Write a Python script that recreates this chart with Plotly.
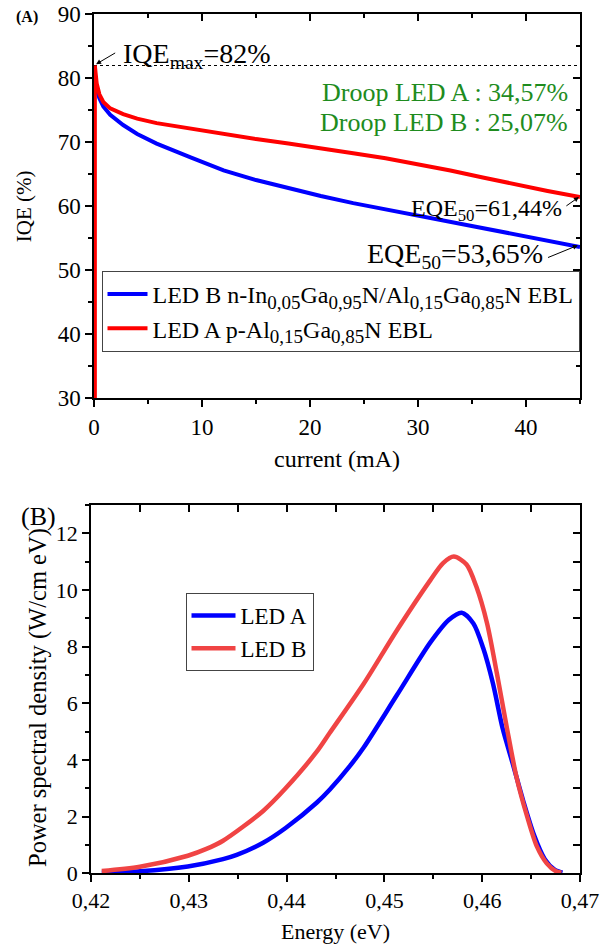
import plotly.graph_objects as go

# ---------------- Panel A data (IQE vs current) ----------------
current_a = [0.08, 0.08, 0.15, 0.25, 0.5, 0.86, 1.5, 2.7, 4, 5.8, 9, 12, 15, 18, 21,
             24, 27, 30, 33, 36, 39, 42, 45]
iqe_led_a = [30, 82, 80.8, 79.2, 77.5, 76.3, 75.3, 74.4, 73.7, 73.0, 72.1, 71.3, 70.5, 69.8, 69.1,
             68.3, 67.5, 66.6, 65.6, 64.5, 63.4, 62.4, 61.44]

current_b = [0.1, 0.25, 0.5, 0.86, 1.5, 2.7, 4, 5.8, 9, 12, 15, 18, 21, 24, 27, 30,
             33, 36, 39, 42, 45]
iqe_led_b = [80, 78.2, 76.9, 75.6, 74.3, 72.7, 71.3, 69.8, 67.6, 65.6, 64.1, 62.8, 61.6, 60.5,
             59.5, 58.5, 57.5, 56.5, 55.5, 54.55, 53.65]

iqe_max = 82
iqe_max_x = [0, 45]

# ---------------- Panel B data (power spectral density) ----------------
energy_led_a = [0.4211, 0.4250, 0.4299, 0.4335, 0.4349, 0.4376, 0.4399, 0.4431, 0.4444, 0.4465,
                0.4479, 0.4513, 0.4547, 0.4566, 0.4579, 0.4591, 0.4601, 0.4611, 0.4621, 0.4631,
                0.4642, 0.4653, 0.4664, 0.4674, 0.4682]
psd_led_a = [0.02, 0.07, 0.24, 0.50, 0.65, 1.08, 1.60, 2.50, 2.95, 3.80,
             4.45, 6.30, 8.15, 8.95, 9.20, 8.82, 7.95, 6.70, 5.10, 3.90,
             2.55, 1.35, 0.50, 0.13, 0.02]

energy_led_b = [0.4211, 0.4250, 0.4299, 0.4318, 0.4335, 0.4376, 0.4399, 0.4431, 0.4444, 0.4479,
                0.4513, 0.4547, 0.4560, 0.4571, 0.4584, 0.4594, 0.4605, 0.4615, 0.4625, 0.4635,
                0.4646, 0.4656, 0.4666, 0.4675, 0.4681]
psd_led_b = [0.08, 0.23, 0.62, 0.86, 1.15, 2.20, 3.00, 4.30, 4.95, 6.70,
             8.59, 10.35, 10.95, 11.18, 10.90, 10.12, 8.82, 7.06, 5.18, 3.41,
             2.00, 0.94, 0.35, 0.08, 0.02]

FONT = "Liberation Serif"
W, H = 611, 947

SUB = "<sub><span style='font-size:19px'>{}</span></sub>"
name_b = ("LED B n-In" + SUB.format("0,05") + "Ga" + SUB.format("0,95") + "N/Al"
          + SUB.format("0,15") + "Ga" + SUB.format("0,85") + "N EBL")
name_a = "LED A p-Al" + SUB.format("0,15") + "Ga" + SUB.format("0,85") + "N EBL"

fig = go.Figure()

# Panel A traces
fig.add_trace(go.Scatter(x=iqe_max_x, y=[iqe_max, iqe_max], mode="lines",
                         line=dict(color="black", width=1, dash="dot"),
                         showlegend=False, hoverinfo="skip", xaxis="x", yaxis="y"))
fig.add_trace(go.Scatter(x=current_b, y=iqe_led_b, mode="lines",
                         line=dict(color="#0000ff", width=4), name=name_b,
                         legend="legend", xaxis="x", yaxis="y"))
fig.add_trace(go.Scatter(x=current_a, y=iqe_led_a, mode="lines",
                         line=dict(color="#ff0000", width=4), name=name_a,
                         legend="legend", xaxis="x", yaxis="y"))
# invisible helper so the mirrored (top/right) axes of panel A are drawn
fig.add_trace(go.Scatter(x=iqe_max_x, y=[iqe_max, iqe_max], mode="lines",
                         line=dict(width=0), opacity=0, showlegend=False, hoverinfo="skip",
                         xaxis="x2", yaxis="y2"))

# Panel B traces
fig.add_trace(go.Scatter(x=energy_led_a, y=psd_led_a, mode="lines",
                         line=dict(color="#0000ff", width=4.5, shape="spline", smoothing=0.8),
                         name="LED A", legend="legend2", xaxis="x3", yaxis="y3"))
fig.add_trace(go.Scatter(x=energy_led_b, y=psd_led_b, mode="lines",
                         line=dict(color="#f04444", width=4.5, shape="spline", smoothing=0.8),
                         name="LED B", legend="legend2", xaxis="x3", yaxis="y3"))
fig.add_trace(go.Scatter(x=energy_led_b, y=psd_led_b, mode="lines",
                         line=dict(width=0), opacity=0, showlegend=False, hoverinfo="skip",
                         xaxis="x4", yaxis="y4"))

dA_x = [94 / W, 580 / W]
dA_y = [1 - 398.3 / H, 1 - 14.3 / H]
dB_x = [91 / W, 580 / W]
dB_y = [1 - 873.3 / H, 1 - 505 / H]

base = dict(showline=True, linecolor="black", linewidth=1.5, showgrid=False, zeroline=False,
            tickcolor="black", tickwidth=1.5, ticklen=7, automargin=False)
fA = dict(family=FONT, size=23, color="black")
fB = dict(family=FONT, size=22, color="black")
mo = lambda d: dict(dtick=d, ticklen=4, ticks="outside", tickcolor="black", tickwidth=1.5)
mi = lambda d: dict(dtick=d, ticklen=4, ticks="inside", tickcolor="black", tickwidth=1.5)

fig.update_layout(
    width=W, height=H, margin=dict(l=0, r=0, t=0, b=0, autoexpand=False),
    paper_bgcolor="white", plot_bgcolor="white",
    separators=",.",
    font=dict(family=FONT, color="black"),
    xaxis=dict(base, domain=dA_x, anchor="y", range=[0, 45], dtick=10, ticks="outside",
               tickfont=fA, minor=mo(5),
               title=dict(text="current (mA)", font=dict(family=FONT, size=24), standoff=12)),
    yaxis=dict(base, domain=dA_y, anchor="x", range=[30, 90], dtick=10, ticks="outside",
               tickfont=fA, minor=mo(5),
               title=dict(text="IQE (%)", font=dict(family=FONT, size=21), standoff=20)),
    xaxis2=dict(base, domain=dA_x, anchor="y", overlaying="x", side="top", range=[0, 45], dtick=10,
                ticks="inside", showticklabels=False, minor=mi(5)),
    yaxis2=dict(base, domain=dA_y, anchor="x", overlaying="y", side="right", range=[30, 90],
                dtick=10, ticks="inside", showticklabels=False, minor=mi(5)),
    xaxis3=dict(base, domain=dB_x, anchor="y3", range=[0.42, 0.47], dtick=0.01, tickformat=".2f",
                ticks="outside", tickfont=fB, minor=mo(0.005),
                title=dict(text="Energy (eV)", font=dict(family=FONT, size=22), standoff=11)),
    yaxis3=dict(base, domain=dB_y, anchor="x3", range=[0, 13], dtick=2, ticks="outside",
                tickfont=fB, minor=mo(1)),
    xaxis4=dict(base, domain=dB_x, anchor="y3", overlaying="x3", side="top", range=[0.42, 0.47],
                dtick=0.005, ticks="inside", showticklabels=False),
    yaxis4=dict(base, domain=dB_y, anchor="x3", overlaying="y3", side="right", range=[0, 13],
                dtick=1, ticks="inside", showticklabels=False),
    legend=dict(x=101.5 / W, y=1 - 271 / H, xanchor="left", yanchor="top",
                bordercolor="#444", borderwidth=1, bgcolor="white", itemwidth=40,
                font=dict(family=FONT, size=24, color="black"), traceorder="normal"),
    legend2=dict(x=185.5 / W, y=1 - 593 / H, xanchor="left", yanchor="top",
                 bordercolor="#444", borderwidth=1, bgcolor="white", itemwidth=44,
                 font=dict(family=FONT, size=23, color="black"), traceorder="normal"),
)

green = "#1e8c1e"
ann = [
    dict(text="<b>(A)</b>", xref="paper", yref="paper", x=27 / W, y=1 - 17 / H,
         xanchor="center", yanchor="middle", showarrow=False, font=dict(family=FONT, size=16)),
    dict(text="(B)", xref="paper", yref="paper", x=38 / W, y=1 - 516 / H,
         xanchor="center", yanchor="middle", showarrow=False, font=dict(family=FONT, size=26)),
    dict(text="Power spectral density (W/cm eV)", xref="paper", yref="paper",
         x=38 / W, y=1 - 698 / H, xanchor="center", yanchor="middle", textangle=-90,
         showarrow=False, font=dict(family=FONT, size=24.5)),
    dict(text="IQE<sub>max</sub>=82%", xref="x", yref="y", x=2.5, y=83.6, xanchor="left",
         yanchor="middle", showarrow=False, font=dict(family=FONT, size=28)),
    dict(text="", xref="x", yref="y", x=0.19, y=82.2, ax=2.1, ay=84.1, axref="x", ayref="y",
         showarrow=True, arrowhead=2, arrowsize=1, arrowwidth=1, arrowcolor="black"),
    dict(text="Droop LED A : 34,57%", xref="x", yref="y", x=44.1, y=77.8, xanchor="right",
         yanchor="middle", showarrow=False, font=dict(family=FONT, size=26, color=green)),
    dict(text="Droop LED B : 25,07%", xref="x", yref="y", x=44.1, y=73.1, xanchor="right",
         yanchor="middle", showarrow=False, font=dict(family=FONT, size=26, color=green)),
    dict(text="EQE<sub>50</sub>=61,44%", xref="x", yref="y", x=43.5, y=59.4, xanchor="right",
         yanchor="middle", showarrow=False, font=dict(family=FONT, size=24)),
    dict(text="", xref="x", yref="y", x=44.9, y=61.44, ax=43.6, ay=59.9, axref="x", ayref="y",
         showarrow=True, arrowhead=2, arrowsize=1, arrowwidth=1, arrowcolor="black"),
    dict(text="EQE<sub>50</sub>=53,65%", xref="x", yref="y", x=41.8, y=52.3, xanchor="right",
         yanchor="middle", showarrow=False, font=dict(family=FONT, size=28)),
    dict(text="", xref="x", yref="y", x=44.8, y=53.9, ax=41.9, ay=51.9, axref="x", ayref="y",
         showarrow=True, arrowhead=2, arrowsize=1, arrowwidth=1, arrowcolor="black"),
]
fig.update_layout(annotations=ann)

fig.write_html("out.html")
